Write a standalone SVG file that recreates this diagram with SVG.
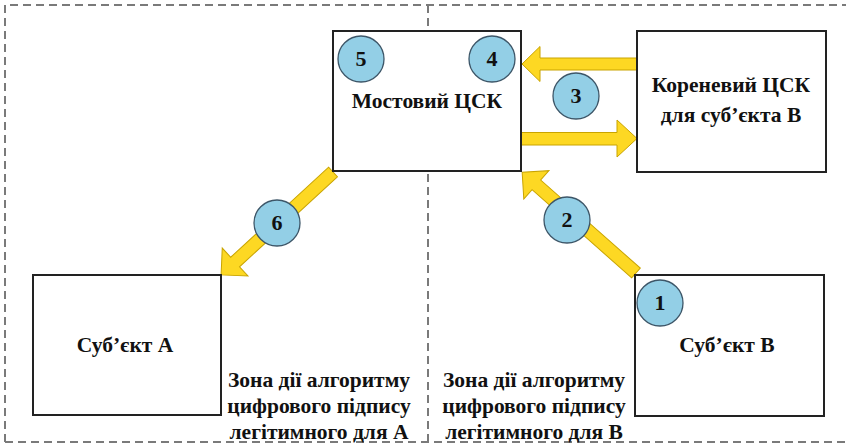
<svg xmlns="http://www.w3.org/2000/svg" width="846" height="444" viewBox="0 0 846 444">
<style>
.zone{fill:none;stroke:#7a7a7a;stroke-width:2;stroke-dasharray:8 5}
.box{fill:#fff;stroke:#222;stroke-width:2}
.t{font-family:'Liberation Serif','Times New Roman',serif;font-weight:bold;font-size:21.5px;fill:#111;text-anchor:middle}
.n{font-family:'Liberation Serif','Times New Roman',serif;font-weight:bold;font-size:22px;fill:#111;text-anchor:middle}
.c{fill:#93cfe6;stroke:#3d5668;stroke-width:1.3}
.arr{fill:#fdd823;stroke:#c9a400;stroke-width:1}
</style>
<rect width="846" height="444" fill="#fff"/>
<g id="zones">
<path class="zone" d="M5,442 V5 H846"/>
<path class="zone" d="M5,442 H846"/>
<path class="zone" d="M428,5 V442"/>
</g>
<g id="connectors">
<polygon class="arr" points="637,58 540,58 540,46.5 522,64 540,81.5 540,70 637,70"/>
<polygon class="arr" points="521,132.5 617,132.5 617,120 637,138.5 617,157 617,145 521,145"/>
<polygon class="arr" transform="translate(333,172) rotate(137.4)" points="0,-6.5 133,-6.5 133,-19 152,0 133,19 133,6.5 0,6.5"/>
<polygon class="arr" transform="translate(636,273) rotate(-138.5)" points="0,-6.5 133,-6.5 133,-19 152,0 133,19 133,6.5 0,6.5"/>
</g>
<g id="bridge">
<rect class="box" x="333" y="31" width="188" height="140"/>
<text class="t" x="427" y="108">Мостовий ЦСК</text>
</g>
<g id="root">
<rect class="box" x="637" y="31" width="189" height="141"/>
<text class="t" x="731" y="92">Кореневий ЦСК</text>
<text class="t" x="731" y="122">для суб’єкта В</text>
</g>
<g id="subjectA">
<rect class="box" x="33" y="275" width="188" height="140"/>
<text class="t" x="125" y="352">Суб’єкт А</text>
</g>
<g id="subjectB">
<rect class="box" x="635" y="275" width="189" height="141"/>
<text class="t" x="727" y="352">Суб’єкт В</text>
</g>
<g id="zoneA">
<text class="t" x="319" y="387">Зона дії алгоритму</text>
<text class="t" x="319" y="413">цифрового підпису</text>
<text class="t" x="319" y="439">легітимного для А</text>
</g>
<g id="zoneB">
<text class="t" x="534" y="387">Зона дії алгоритму</text>
<text class="t" x="534" y="413">цифрового підпису</text>
<text class="t" x="534" y="439">легітимного для В</text>
</g>
<g id="step1"><circle class="c" cx="660" cy="303" r="23"/><text class="n" x="660" y="310">1</text></g>
<g id="step2"><circle class="c" cx="567" cy="220" r="23"/><text class="n" x="567" y="227">2</text></g>
<g id="step3"><circle class="c" cx="576" cy="96" r="23"/><text class="n" x="576" y="103">3</text></g>
<g id="step4"><circle class="c" cx="492" cy="59" r="23"/><text class="n" x="492" y="66">4</text></g>
<g id="step5"><circle class="c" cx="361" cy="59" r="23"/><text class="n" x="361" y="66">5</text></g>
<g id="step6"><circle class="c" cx="277" cy="223" r="23"/><text class="n" x="277" y="230">6</text></g>
</svg>
